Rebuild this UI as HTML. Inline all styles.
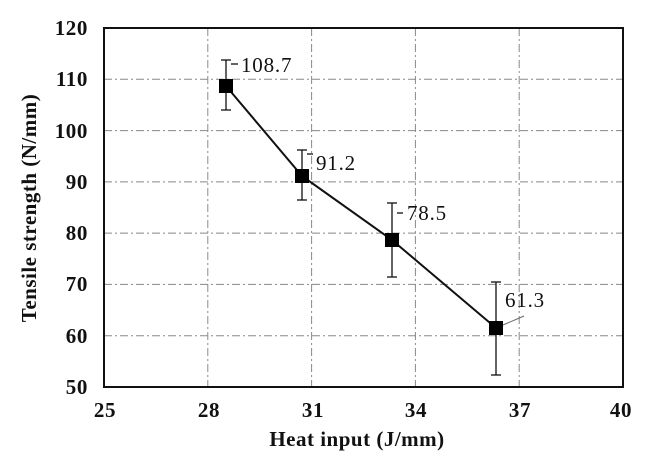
<!DOCTYPE html>
<html><head><style>body{margin:0;background:#fff}svg{display:block}</style></head><body>
<svg width="647" height="461" viewBox="0 0 647 461" font-family="Liberation Serif, serif">
<rect width="647" height="461" fill="#fff"/>
<g stroke="#888" stroke-width="1" stroke-dasharray="8,3,2,3">
<line x1="104" x2="623" y1="79.3" y2="79.3"/><line x1="104" x2="623" y1="130.6" y2="130.6"/>
<line x1="104" x2="623" y1="181.9" y2="181.9"/><line x1="104" x2="623" y1="233.1" y2="233.1"/>
<line x1="104" x2="623" y1="284.4" y2="284.4"/><line x1="104" x2="623" y1="335.7" y2="335.7"/>
<line y1="28" y2="387" x1="207.8" x2="207.8"/><line y1="28" y2="387" x1="311.6" x2="311.6"/>
<line y1="28" y2="387" x1="415.4" x2="415.4"/><line y1="28" y2="387" x1="519.2" x2="519.2"/>
</g>
<rect x="104" y="28" width="519" height="359" fill="none" stroke="#111" stroke-width="2"/>
<g stroke="#111" stroke-width="1.3">
<line x1="226" x2="226" y1="60" y2="110"/><line x1="221" x2="231" y1="60" y2="60"/><line x1="221" x2="231" y1="110" y2="110"/>
<line x1="302" x2="302" y1="150" y2="200"/><line x1="297" x2="307" y1="150" y2="150"/><line x1="297" x2="307" y1="200" y2="200"/>
<line x1="392" x2="392" y1="203" y2="277"/><line x1="387" x2="397" y1="203" y2="203"/><line x1="387" x2="397" y1="277" y2="277"/>
<line x1="496" x2="496" y1="282" y2="375"/><line x1="491" x2="501" y1="282" y2="282"/><line x1="491" x2="501" y1="375" y2="375"/>
<line x1="231" x2="238" y1="64" y2="64"/><line x1="307" x2="313" y1="154" y2="154"/><line x1="397" x2="403" y1="213" y2="213"/>
<line x1="503" x2="524" y1="325" y2="316" stroke="#666" stroke-width="1"/>
</g>
<polyline points="226,86 302,176 392,240 496,328" fill="none" stroke="#111" stroke-width="2"/>
<g fill="#000"><rect x="219" y="79" width="14" height="14"/><rect x="295" y="169" width="14" height="14"/><rect x="385" y="233" width="14" height="14"/><rect x="489" y="321" width="14" height="14"/></g>
<g font-size="21" letter-spacing="0.8" fill="#111"><text x="241" y="72">108.7</text><text x="316" y="170">91.2</text><text x="407" y="220">78.5</text><text x="505" y="307">61.3</text></g>
<g font-size="21" font-weight="bold" letter-spacing="0.6" fill="#111" text-anchor="end">
<text x="88" y="35">120</text><text x="88" y="86">110</text><text x="88" y="138">100</text><text x="88" y="189">90</text><text x="88" y="240">80</text><text x="88" y="291">70</text><text x="88" y="343">60</text><text x="88" y="394">50</text></g>
<g font-size="21" font-weight="bold" letter-spacing="0.6" fill="#111" text-anchor="middle">
<text x="105" y="417">25</text><text x="209" y="417">28</text><text x="313" y="417">31</text><text x="416" y="417">34</text><text x="520" y="417">37</text><text x="621" y="417">40</text></g>
<g font-size="21" font-weight="bold" letter-spacing="0.5" fill="#111" text-anchor="middle">
<text x="357" y="446">Heat input (J/mm)</text>
<text transform="translate(36,208) rotate(-90)">Tensile strength (N/mm)</text></g>
</svg></body></html>
